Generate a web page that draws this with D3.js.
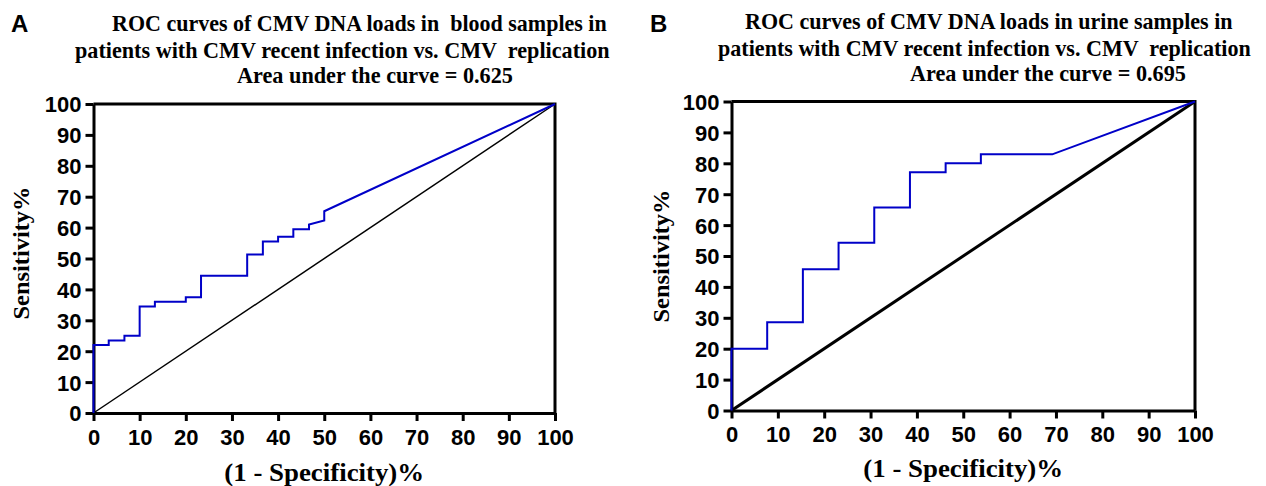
<!DOCTYPE html>
<html>
<head>
<meta charset="utf-8">
<script src="https://cdn.jsdelivr.net/npm/d3@7"></script>
<style>
    body { margin: 0; background: #fff; }
    svg { display: block; }
    .tick text { font-family: "Liberation Sans", Arial, sans-serif; font-weight: bold; font-size: 22px; fill: #000; }
    .title, .axis-title { font-family: "Liberation Serif", "Times New Roman", serif; font-weight: bold; fill: #000; white-space: pre; }
    .panel-letter { font-family: "Liberation Sans", Arial, sans-serif; font-weight: bold; font-size: 24px; }
</style>
</head>
<body>
<svg id="chart" width="1266" height="486"></svg>
<script>
// Axis ticks (both axes, both panels)
const axis_ticks = [0, 10, 20, 30, 40, 50, 60, 70, 80, 90, 100];

// Panel A: blood samples, (1 - specificity)% vs sensitivity%
const fpr_blood = [0, 0, 3.3, 3.3, 6.7, 6.7, 10, 10, 13.3, 13.3, 20, 20, 23.3, 23.3, 33.3, 33.3, 36.7, 36.7, 40, 40, 43.3, 43.3, 46.7, 46.7, 50, 50, 100];
const tpr_blood = [0, 22, 22, 23.5, 23.5, 25, 25, 34.5, 34.5, 36, 36, 37.5, 37.5, 44.4, 44.4, 51.3, 51.3, 55.5, 55.5, 57, 57, 59.5, 59.5, 61, 62.3, 65.3, 100];

// Panel B: urine samples
const fpr_urine = [0, 0, 7.7, 7.7, 15.4, 15.4, 23.1, 23.1, 30.8, 30.8, 38.5, 38.5, 46.2, 46.2, 53.8, 53.8, 69.2, 100];
const tpr_urine = [0, 20, 20, 28.6, 28.6, 45.7, 45.7, 54.3, 54.3, 65.7, 65.7, 77.1, 77.1, 80, 80, 82.9, 82.9, 100];

const titles_blood = [
    'ROC curves of CMV DNA loads in  blood samples in',
    'patients with CMV recent infection vs. CMV  replication',
    'Area under the curve = 0.625'
];
const titles_urine = [
    'ROC curves of CMV DNA loads in urine samples in',
    'patients with CMV recent infection vs. CMV  replication',
    'Area under the curve = 0.695'
];

const svg = d3.select('#chart');

// Squeeze a text horizontally to a given width (the figure's serif text is condensed)
function squeeze(sel, width, pre_transform) {
    const natural = sel.node().getComputedTextLength();
    sel.attr('transform', `${pre_transform} scale(${width / natural},1)`);
}

function draw_panel(opts) {
    const x = d3.scaleLinear().domain([0, 100]).range([opts.left, opts.right]);
    const y = d3.scaleLinear().domain([0, 100]).range([opts.bottom, opts.top]);
    const g = svg.append('g');

    // Panel letter
    g.append('text').attr('class', 'panel-letter')
        .attr('x', opts.letter_x).attr('y', 32).text(opts.letter);

    // Title, three lines
    opts.titles.forEach((line, i) => {
        const t = g.append('text').attr('class', 'title')
            .attr('font-size', 23)
            .text(line);
        squeeze(t, opts.title_w[i], `translate(${opts.title_x[i]},${opts.title_y[i]})`);
    });

    // Frame (top + right)
    g.append('path')
        .attr('d', `M${x(0)},${y(100)}H${x(100)}V${y(0)}`)
        .attr('fill', 'none').attr('stroke', '#000').attr('stroke-width', 3);

    // Axes
    const x_axis = g.append('g')
        .attr('transform', `translate(0,${y(0)})`)
        .call(d3.axisBottom(x).tickValues(axis_ticks).tickSize(8).tickPadding(4).tickSizeOuter(0));
    const y_axis = g.append('g')
        .attr('transform', `translate(${x(0)},0)`)
        .call(d3.axisLeft(y).tickValues(axis_ticks).tickSize(8).tickPadding(4).tickSizeOuter(0));
    [x_axis, y_axis].forEach(a => {
        a.select('.domain').attr('stroke', '#000').attr('stroke-width', 3);
        a.selectAll('.tick line').attr('stroke', '#000').attr('stroke-width', 3);
    });
    x_axis.selectAll('.tick text').attr('dy', '0.9em');
    y_axis.selectAll('.tick text').attr('dy', '0.36em');

    // Reference diagonal
    g.append('line')
        .attr('x1', x(0)).attr('y1', y(0)).attr('x2', x(100)).attr('y2', y(100))
        .attr('stroke', '#000').attr('stroke-width', opts.diag_width);

    // ROC curve
    const pts = opts.fpr.map((f, i) => [f, opts.tpr[i]]);
    g.append('path')
        .datum(pts)
        .attr('d', d3.line().x(d => x(d[0])).y(d => y(d[1])))
        .attr('fill', 'none').attr('stroke', '#0000c8').attr('stroke-width', 2);

    // Axis titles
    const xt = g.append('text').attr('class', 'axis-title')
        .attr('text-anchor', 'middle').attr('font-size', 26)
        .text('(1 - Specificity)%');
    squeeze(xt, 200, `translate(${(opts.left + opts.right) / 2},${opts.x_title_y})`);
    const yt = g.append('text').attr('class', 'axis-title')
        .attr('text-anchor', 'middle').attr('font-size', 24)
        .text('Sensitivity%');
    squeeze(yt, 133, `translate(${opts.y_title_x},${opts.y_title_cy}) rotate(-90)`);
}

draw_panel({
    letter: 'A', letter_x: 11,
    titles: titles_blood,
    title_x: [112, 75, 237], title_w: [495, 535, 276], title_y: [31, 58, 83],
    left: 93.5, right: 555, top: 104, bottom: 413,
    fpr: fpr_blood, tpr: tpr_blood, diag_width: 1.5,
    x_title_y: 481, y_title_x: 29, y_title_cy: 253
});

draw_panel({
    letter: 'B', letter_x: 650,
    titles: titles_urine,
    title_x: [745, 718, 910], title_w: [488, 533, 276], title_y: [29, 56, 81],
    left: 731.5, right: 1195, top: 101.5, bottom: 410.5,
    fpr: fpr_urine, tpr: tpr_urine, diag_width: 3,
    x_title_y: 477, y_title_x: 669, y_title_cy: 256
});
</script>
</body>
</html>
